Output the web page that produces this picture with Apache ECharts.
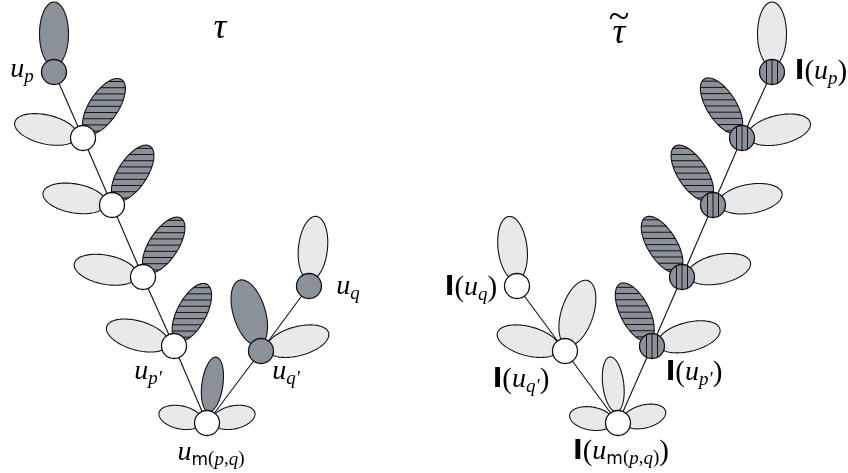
<!DOCTYPE html>
<html><head><meta charset="utf-8">
<script src="https://cdn.jsdelivr.net/npm/echarts@6/dist/echarts.min.js"></script>
<style>html,body{margin:0;padding:0;background:#fff}#c{width:848px;height:473px}</style>
</head><body><div id="c"></div>
<script>
// ---------- data ----------
// nodes: [x, y, fill]
const leftNodes = [[54,72,'dark'],[83,138,'white'],[112,205,'white'],[143,277,'white'],[174,346,'white'],[207,423,'white'],[261,351,'dark'],[309,286,'dark']];
const rightNodes = [[772,72,'vhatch'],[742,138,'vhatch'],[713,205,'vhatch'],[682,277,'vhatch'],[652,346,'vhatch'],[618,423,'white'],[565,351,'white'],[517,286,'white']];
// edges: [fromNode, toNode]
const leftEdges = [[0,1],[1,2],[2,3],[3,4],[4,5],[5,6],[6,7]];
const rightEdges = [[0,1],[1,2],[2,3],[3,4],[4,5],[5,6],[6,7]];
// petals: [nodeIndex, directionDeg, fill, sizeClass]
const leftPetals = [
  [0,-90,'dark','L'],
  [1,193,'light','L'],[1,-56.5,'hatch','L'],
  [2,190,'light','L'],[2,-57,'hatch','L'],
  [3,191,'light','L'],[3,-57,'hatch','L'],
  [4,196,'light','L'],[4,-62,'hatch','L'],
  [5,-82,'dark','V'],[5,192,'light','S'],[5,-12,'light','S'],
  [6,-107,'dark','B'],[6,-15,'light','L'],
  [7,-84,'light','L']
];
const rightPetals = [
  [0,-90,'light','L'],
  [1,-122.6,'hatch','L'],[1,-12.5,'light','L'],
  [2,-123,'hatch','L'],[2,-9.5,'light','L'],
  [3,-121.6,'hatch','L'],[3,-12,'light','L'],
  [4,-117,'hatch','L'],[4,-14,'light','L'],
  [5,-97,'light','V'],[5,189.5,'light','S'],[5,-14,'light','S'],
  [6,-72,'light','B'],[6,195,'light','L'],
  [7,-96.7,'light','L']
];
// labels: [x, y, text]
const labels = [
  [220,29,'{t|τ}'],
  [22,70,'{u|u}{s|p}'],
  [148,372,'{u|u}{s|p′}'],
  [286,372,'{u|u}{s|q′}'],
  [348,287,'{u|u}{s|q}'],
  [211,453,'{u|u}{sm|m}{sp|(}{s|p}{sp|,}{s|q}{sp|)}'],
  [619,34,'{t|τ}'],
  [619,18,'{tl|~}'],
  [821,72,'{I|I}{par|(}{u|u}{s|p}{par|)}'],
  [471,288,'{I|I}{par|(}{u|u}{s|q}{par|)}'],
  [521,380,'{I|I}{par|(}{u|u}{s|q′}{par|)}'],
  [694,373,'{I|I}{par|(}{u|u}{s|p′}{par|)}'],
  [621,452,'{I|I}{par|(}{u|u}{sm|m}{sp|(}{s|p}{sp|,}{s|q}{sp|)}{par|)}']
];

// ---------- styles ----------
const DARK = '#8a9199', LIGHT = '#e8e9ea', INK = '#111';
const SIZES = {L:[32,14.5,38], B:[34,16,40], S:[22,11.5,27], V:[27.5,10.5,39]}; // a, b, distance
const NODE_R = 12.5, STRIPE = 6.2, VSTRIPE = 5.5;

function ellipsePts(cx, cy, a, b, th){
  const pts=[], c=Math.cos(th), s=Math.sin(th);
  for(let i=0;i<120;i++){const t=i/120*2*Math.PI, u=a*Math.cos(t), v=b*Math.sin(t);
    pts.push([cx+u*c-v*s, cy+u*s+v*c]);}
  return pts;
}
function hChords(cx, cy, a, b, th, step){
  const c=Math.cos(th), s=Math.sin(th);
  const A=c*c/(a*a)+s*s/(b*b), B=2*s*c*(1/(a*a)-1/(b*b)), C=s*s/(a*a)+c*c/(b*b);
  const hh=Math.sqrt(a*a*s*s+b*b*c*c), out=[];
  const n=Math.floor(hh/step);
  for(let k=-n;k<=n;k++){
    const yp=k*step, D=B*B*yp*yp-4*A*(C*yp*yp-1);
    if(D<=0) continue;
    const r=Math.sqrt(D), x1=(-B*yp-r)/(2*A), x2=(-B*yp+r)/(2*A);
    if(x2-x1<2) continue;
    out.push([cx+x1, cy+yp, cx+x2, cy+yp]);
  }
  return out;
}
function petalSeries(nodes, petals){
  return {
    type:'custom', clip:false, z:1,
    data: petals.map(p=>[nodes[p[0]][0], nodes[p[0]][1]]),
    encode:{x:0,y:1},
    renderItem:function(params, api){
      const p=petals[params.dataIndex], sz=SIZES[p[3]], th=p[1]*Math.PI/180;
      const ctr=api.coord([api.value(0)+sz[2]*Math.cos(th), api.value(1)+sz[2]*Math.sin(th)]);
      const a=api.size([sz[0],0])[0], b=api.size([sz[1],0])[0];
      const pts=ellipsePts(ctr[0],ctr[1],a,b,th);
      const children=[{type:'polygon', shape:{points:pts}, style:{fill:p[2]==='light'?LIGHT:DARK, stroke:null}}];
      if(p[2]==='hatch'){
        hChords(ctr[0],ctr[1],a,b,th,STRIPE).forEach(l=>children.push({type:'line', shape:{x1:l[0],y1:l[1],x2:l[2],y2:l[3]}, style:{stroke:INK, lineWidth:1}}));
      }
      children.push({type:'polygon', shape:{points:pts}, style:{fill:null, stroke:INK, lineWidth:1.1}});
      return {type:'group', children:children};
    }
  };
}
function edgeSeries(nodes, edges){
  return {
    type:'custom', clip:false, z:2,
    data: edges.map(e=>[nodes[e[0]][0],nodes[e[0]][1],nodes[e[1]][0],nodes[e[1]][1]]),
    encode:{x:[0,2],y:[1,3]},
    renderItem:function(params, api){
      const p1=api.coord([api.value(0),api.value(1)]), p2=api.coord([api.value(2),api.value(3)]);
      return {type:'line', shape:{x1:p1[0],y1:p1[1],x2:p2[0],y2:p2[1]}, style:{stroke:INK, lineWidth:1.1}};
    }
  };
}
function nodeSeries(nodes){
  return {
    type:'custom', clip:false, z:3,
    data: nodes.map(n=>[n[0],n[1]]),
    encode:{x:0,y:1},
    renderItem:function(params, api){
      const kind=nodes[params.dataIndex][2], c=api.coord([api.value(0),api.value(1)]);
      const r=api.size([NODE_R,0])[0];
      const ch=[{type:'circle', shape:{cx:c[0],cy:c[1],r:r}, style:{fill:kind==='white'?'#fff':DARK, stroke:null}}];
      if(kind==='vhatch'){
        [-VSTRIPE,0,VSTRIPE].forEach(dx=>{const h=Math.sqrt(r*r-dx*dx);
          ch.push({type:'line', shape:{x1:c[0]+dx,y1:c[1]-h,x2:c[0]+dx,y2:c[1]+h}, style:{stroke:INK,lineWidth:1}});});
      }
      ch.push({type:'circle', shape:{cx:c[0],cy:c[1],r:r}, style:{fill:null, stroke:INK, lineWidth:1.3}});
      return {type:'group', children:ch};
    }
  };
}
const RICH = {
  t:{font:'italic 36px "Liberation Serif"', lineHeight:40, fill:'#000'},
  tl:{font:'38px "Liberation Serif"', lineHeight:34, fill:'#000'},
  u:{font:'italic 28px "Liberation Serif"', lineHeight:32, verticalAlign:'middle', fill:'#000'},
  s:{font:'italic 19px "Liberation Serif"', lineHeight:19, verticalAlign:'bottom', fill:'#000'},
  sp:{font:'19px "Liberation Serif"', lineHeight:19, verticalAlign:'bottom', fill:'#000'},
  sm:{font:'17px "DejaVu Sans"', lineHeight:19, verticalAlign:'bottom', fill:'#000'},
  I:{font:'bold 26px "DejaVu Sans"', lineHeight:32, verticalAlign:'middle', fill:'#000'},
  par:{font:'29px "Liberation Serif"', lineHeight:32, verticalAlign:'middle', fill:'#000'}
};
const labelSeries = {
  type:'custom', clip:false, z:4,
  data: labels.map(l=>[l[0],l[1]]),
  encode:{x:0,y:1},
  renderItem:function(params, api){
    const c=api.coord([api.value(0),api.value(1)]);
    return {type:'text', x:c[0], y:c[1], style:{text:labels[params.dataIndex][2], rich:RICH, align:'center', verticalAlign:'middle'}};
  }
};

const chart = echarts.init(document.getElementById('c'), null, {renderer:'canvas', width:848, height:473});
chart.setOption({
  animation:false,
  backgroundColor:'#fff',
  grid:{left:0,right:0,top:0,bottom:0},
  xAxis:{type:'value', min:0, max:848, show:false},
  yAxis:{type:'value', min:0, max:473, inverse:true, show:false},
  series:[
    petalSeries(leftNodes,leftPetals), petalSeries(rightNodes,rightPetals),
    edgeSeries(leftNodes,leftEdges), edgeSeries(rightNodes,rightEdges),
    nodeSeries(leftNodes), nodeSeries(rightNodes),
    labelSeries
  ]
});
</script>
</body></html>
